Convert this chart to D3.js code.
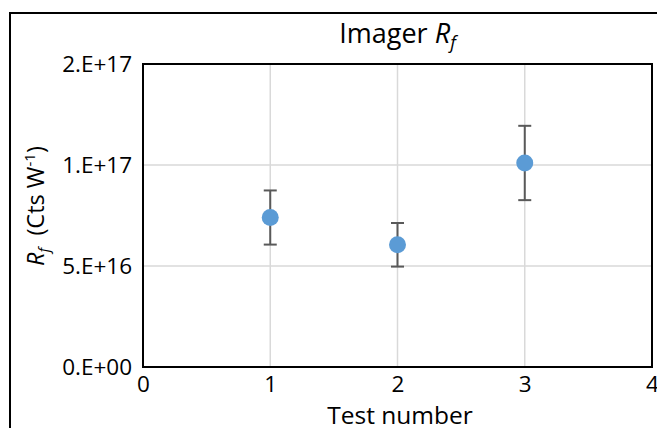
<!DOCTYPE html>
<html>
<head>
<meta charset="utf-8">
<script src="https://cdn.jsdelivr.net/npm/d3@7"></script>
<style>
  body { margin: 0; background: #fff; }
  text { font-family: "Open Sans", "Noto Sans", sans-serif; fill: #000; }
</style>
</head>
<body>
<div id="chart"></div>
<script>
// data
var tests = [1, 2, 3];
var rfValues = [7.4e16, 6.05e16, 1.01e17];
var rfErrors = [1.34e16, 1.08e16, 1.84e16];
var xTicks = [0, 1, 2, 3, 4];
var yTicks = [0, 5e16, 1e17, 1.5e17];

var width = 657, height = 428,
    plot = {left: 143, right: 652, top: 64, bottom: 367};

var svg = d3.select('#chart').append('svg')
    .attr('width', width)
    .attr('height', height);

// outer chart frame (runs off the right/bottom edges)
svg.append('rect')
    .attr('x', 10).attr('y', 13)
    .attr('width', 800).attr('height', 600)
    .attr('fill', 'none')
    .attr('stroke', '#000')
    .attr('stroke-width', 2);

var x = d3.scaleLinear().domain([0, 4]).range([plot.left, plot.right]),
    y = d3.scaleLinear().domain([0, 1.5e17]).range([plot.bottom, plot.top]);

// Excel style "0.E+00"
function sciFormat(d) {
    var parts = d3.format('.0e')(d).split('e');
    var exp = +parts[1];
    var sign = exp < 0 ? '-' : '+';
    return parts[0] + '.E' + sign + d3.format('02d')(Math.abs(exp));
}

// gridlines
svg.append('g').selectAll('line.h')
    .data(yTicks.filter(function(d) { return d > 0 && d < 1.5e17; }))
    .enter().append('line')
    .attr('x1', plot.left).attr('x2', plot.right)
    .attr('y1', function(d) { return y(d); })
    .attr('y2', function(d) { return y(d); })
    .attr('stroke', '#d9d9d9')
    .attr('stroke-width', 1.5);

svg.append('g').selectAll('line.v')
    .data(xTicks.filter(function(d) { return d > 0 && d < 4; }))
    .enter().append('line')
    .attr('y1', plot.top).attr('y2', plot.bottom)
    .attr('x1', function(d) { return x(d); })
    .attr('x2', function(d) { return x(d); })
    .attr('stroke', '#d9d9d9')
    .attr('stroke-width', 1.5);

// plot area border
svg.append('rect')
    .attr('x', plot.left).attr('y', plot.top)
    .attr('width', plot.right - plot.left)
    .attr('height', plot.bottom - plot.top)
    .attr('fill', 'none')
    .attr('stroke', '#000')
    .attr('stroke-width', 2);

// axes
var yAxis = svg.append('g')
    .attr('transform', 'translate(' + plot.left + ',0)')
    .call(d3.axisLeft(y).tickValues(yTicks).tickFormat(sciFormat).tickSize(0).tickPadding(11));
yAxis.select('.domain').remove();
yAxis.selectAll('text')
    .style('font-family', '"Open Sans", sans-serif')
    .style('font-size', '22.5px')
    .attr('fill', '#000');

var xAxis = svg.append('g')
    .attr('transform', 'translate(0,' + plot.bottom + ')')
    .call(d3.axisBottom(x).tickValues(xTicks).tickFormat(d3.format('d')).tickSize(0).tickPadding(9));
xAxis.select('.domain').remove();
xAxis.selectAll('text')
    .style('font-family', '"Open Sans", sans-serif')
    .style('font-size', '22.5px')
    .attr('fill', '#000');

// error bars
var bars = svg.append('g').selectAll('g')
    .data(tests)
    .enter().append('g');

bars.append('line')
    .attr('x1', function(d) { return x(d); })
    .attr('x2', function(d) { return x(d); })
    .attr('y1', function(d, i) { return y(rfValues[i] - rfErrors[i]); })
    .attr('y2', function(d, i) { return y(rfValues[i] + rfErrors[i]); });

bars.append('line')
    .attr('x1', function(d) { return x(d) - 6.5; })
    .attr('x2', function(d) { return x(d) + 6.5; })
    .attr('y1', function(d, i) { return y(rfValues[i] + rfErrors[i]); })
    .attr('y2', function(d, i) { return y(rfValues[i] + rfErrors[i]); });

bars.append('line')
    .attr('x1', function(d) { return x(d) - 6.5; })
    .attr('x2', function(d) { return x(d) + 6.5; })
    .attr('y1', function(d, i) { return y(rfValues[i] - rfErrors[i]); })
    .attr('y2', function(d, i) { return y(rfValues[i] - rfErrors[i]); });

bars.selectAll('line')
    .attr('stroke', '#595959')
    .attr('stroke-width', 2);

// markers
svg.append('g').selectAll('circle')
    .data(tests)
    .enter().append('circle')
    .attr('cx', function(d) { return x(d); })
    .attr('cy', function(d, i) { return y(rfValues[i]); })
    .attr('r', 8.5)
    .attr('fill', '#5b9bd5');

// title
var title = svg.append('text')
    .attr('x', (plot.left + plot.right) / 2)
    .attr('y', 43)
    .attr('text-anchor', 'middle')
    .style('font-size', '27px');
title.append('tspan').text('Imager ');
title.append('tspan').style('font-style', 'italic').text('R');
title.append('tspan').style('font-style', 'italic').style('font-size', '18px').attr('dy', 6).text('f');

// x axis title
svg.append('text')
    .attr('x', 400)
    .attr('y', 424)
    .attr('text-anchor', 'middle')
    .style('font-size', '24.5px')
    .text('Test number');

// y axis title
var ytitle = svg.append('text')
    .attr('transform', 'translate(44,206) rotate(-90)')
    .attr('text-anchor', 'middle')
    .style('font-size', '23.5px');
ytitle.append('tspan').style('font-style', 'italic').text('R');
ytitle.append('tspan').style('font-style', 'italic').style('font-size', '15px').attr('dy', 5).text('f');
ytitle.append('tspan').attr('dy', -5).text('\u00a0 (Cts W');
ytitle.append('tspan').style('font-size', '15px').attr('dy', -9).text('-1');
ytitle.append('tspan').attr('dy', 9).text(')');
</script>
</body>
</html>
